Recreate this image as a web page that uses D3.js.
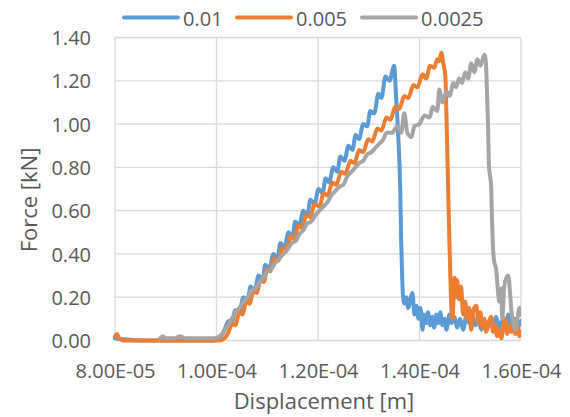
<!DOCTYPE html>
<html>
<head>
<meta charset="utf-8">
<script src="https://cdn.jsdelivr.net/npm/d3@7"></script>
<style>
  body { margin: 0; background: #fff; }
  text { font-family: "Open Sans", sans-serif; fill: #595959; }
</style>
</head>
<body>
<div id="chart"></div>
<script>
// displacement read in micrometres, force in kN
const seriesNames = ["0.01", "0.005", "0.0025"]
const seriesColors = ["#5B9BD5", "#ED7D31", "#A5A5A5"]

const run001 = [
  [80.0,0.01],[85.0,0.0],[90.0,0.0],[95.0,0.0],[99.5,0.0],[100.6,0.01],[101.4,0.04],
  [102.4,0.09],[103.0,0.08],[103.7,0.14],[104.5,0.13],[105.3,0.20],[106.1,0.18],[106.7,0.25],[107.5,0.23],
  [108.3,0.30],[109.1,0.28],[109.6,0.35],[110.4,0.33],[111.2,0.40],[112.0,0.38],[112.6,0.45],[113.4,0.43],
  [114.2,0.50],[115.0,0.48],[115.5,0.55],[116.3,0.53],[117.1,0.60],[117.9,0.58],[118.5,0.65],[119.3,0.63],
  [120.1,0.70],[120.9,0.68],[121.5,0.75],[122.2,0.73],[123.0,0.80],[123.8,0.78],[124.4,0.85],[125.2,0.83],
  [126.0,0.90],[126.8,0.88],[127.4,0.95],[128.1,0.93],[128.9,1.00],[129.7,0.99],[130.3,1.06],[131.1,1.05],
  [131.9,1.14],[132.5,1.12],[133.3,1.22],[134.1,1.20],[135.0,1.27],[135.4,1.12],[135.8,0.95],[136.2,0.70],
  [136.4,0.45],[136.6,0.28],[136.8,0.19],
  [137.0,0.17],[137.4,0.20],[137.8,0.15],[138.2,0.19],[138.6,0.22],[139.0,0.12],[139.4,0.16],[139.8,0.10],
  [140.2,0.15],[140.6,0.05],[140.9,0.12],[141.3,0.08],[141.7,0.13],[142.1,0.07],[142.5,0.11],[142.9,0.06],
  [143.3,0.12],[143.7,0.08],[144.1,0.13],[144.5,0.07],[144.9,0.10],[145.3,0.05],[145.9,0.12],[146.3,0.08],
  [146.9,0.11],[147.4,0.06],[148.0,0.10],[148.6,0.05],[149.2,0.11],[149.8,0.08],[150.4,0.12],[151.0,0.07],
  [151.6,0.10],[152.2,0.05],[152.8,0.09],[153.4,0.06],[153.9,0.10],[154.5,0.07],[155.1,0.11],[155.7,0.06],
  [156.3,0.09],[156.9,0.05],[157.5,0.12],[158.1,0.07],[158.7,0.10],[159.3,0.06],[160.0,0.09]
]

const run0005 = [
  [80.0,0.02],[80.4,0.03],[80.8,0.01],[81.9,0.0],[96.7,0.0],[100.6,0.0],[101.6,0.01],[102.4,0.04],
  [103.1,0.08],[103.7,0.07],[104.5,0.13],[105.1,0.12],[105.9,0.18],[106.5,0.17],[107.3,0.23],[107.9,0.22],
  [108.7,0.28],[109.3,0.27],[110.0,0.33],[110.6,0.32],[111.4,0.38],[112.2,0.37],[113.0,0.43],[113.8,0.42],
  [114.6,0.48],[115.4,0.47],[116.1,0.53],[116.9,0.52],[117.7,0.58],[118.5,0.57],[119.3,0.63],[120.3,0.62],
  [121.1,0.68],[121.9,0.67],[122.8,0.73],[123.6,0.72],[124.6,0.78],[125.4,0.77],[126.4,0.83],[127.2,0.82],
  [128.1,0.88],[128.9,0.87],[129.9,0.93],[130.7,0.92],[131.7,0.98],[132.5,0.97],[133.5,1.03],[134.3,1.02],
  [135.2,1.08],[136.0,1.07],[137.0,1.13],[137.8,1.12],[138.8,1.18],[139.6,1.17],[140.6,1.23],[141.3,1.21],
  [142.1,1.27],[142.9,1.26],[143.5,1.30],[143.9,1.29],[144.3,1.33],
  [144.7,1.28],[145.1,1.22],[145.3,1.05],[145.5,0.85],[145.7,0.65],[145.9,0.45],[146.1,0.28],[146.3,0.14],[146.5,0.10],
  [146.9,0.29],[147.2,0.20],[147.4,0.28],[147.8,0.19],[148.2,0.25],[148.6,0.12],[149.0,0.18],[149.4,0.10],
  [149.8,0.15],[150.2,0.05],[150.6,0.14],[151.2,0.16],[151.6,0.08],[152.0,0.13],[152.4,0.06],[152.8,0.10],
  [153.1,0.04],[153.7,0.08],[154.1,0.11],[154.5,0.04],[154.9,0.07],[155.3,0.02],[155.7,0.05],[156.1,0.01],
  [156.5,0.06],[156.9,0.10],[157.3,0.03],[157.7,0.07],[158.1,0.04],[158.5,0.09],[158.9,0.03],[159.3,0.07],
  [159.7,0.02],[159.9,0.04]
]

const run00025 = [
  [88.9,0.01],[89.4,0.02],[90.0,0.01],[91.8,0.01],[92.8,0.02],[93.8,0.01],[96.7,0.01],[99.6,0.01],
  [100.6,0.02],[101.4,0.04],[102.2,0.07],[103.0,0.10],[103.7,0.13],[104.5,0.15],[105.3,0.18],[106.1,0.20],
  [106.9,0.23],[107.7,0.24],[108.5,0.27],[109.3,0.29],[110.0,0.32],[110.8,0.33],[111.6,0.36],[112.4,0.38],
  [113.2,0.40],[114.0,0.42],[114.8,0.45],[115.6,0.46],[116.3,0.49],[117.1,0.51],[117.9,0.54],[118.7,0.55],
  [119.5,0.58],[120.3,0.60],[121.1,0.62],[121.9,0.64],[122.6,0.67],[123.4,0.69],[124.2,0.71],[125.0,0.72],
  [125.8,0.76],[126.6,0.78],[127.4,0.80],[128.1,0.82],[128.9,0.83],[129.7,0.86],[130.5,0.87],[131.3,0.89],
  [132.1,0.91],[132.9,0.93],
  [133.5,0.96],[134.6,0.96],[135.6,0.99],[136.4,0.96],[137.0,1.05],[137.6,0.96],[138.4,0.94],[139.0,0.99],
  [140.0,1.00],[141.0,1.04],[142.0,1.03],[142.6,1.08],[143.5,1.06],[143.9,1.16],[144.5,1.10],[145.3,1.15],
  [145.9,1.13],[146.7,1.19],[147.2,1.17],[147.8,1.21],[148.4,1.19],[149.0,1.24],[149.6,1.21],[150.2,1.28],
  [150.8,1.24],[151.4,1.30],[152.0,1.27],[152.8,1.32],[153.1,1.28],
  [153.3,1.15],[153.5,1.00],[153.7,0.80],[153.9,0.76],[154.1,0.72],[154.3,0.55],[154.5,0.42],[154.7,0.37],
  [155.1,0.33],[155.5,0.22],[155.7,0.18],[156.1,0.24],[156.3,0.10],[156.7,0.25],[157.1,0.29],[157.5,0.30],
  [157.9,0.20],[158.1,0.14],[158.5,0.08],[158.9,0.05],[159.3,0.10],[159.7,0.15],[159.9,0.12]
]

const xTicks = [8.0e-5, 1.0e-4, 1.2e-4, 1.4e-4, 1.6e-4]
const xTickLabels = ["8.00E-05", "1.00E-04", "1.20E-04", "1.40E-04", "1.60E-04"]
const yTicks = [0, 0.2, 0.4, 0.6, 0.8, 1.0, 1.2, 1.4]
const yTickLabels = ["0.00", "0.20", "0.40", "0.60", "0.80", "1.00", "1.20", "1.40"]

const runs = [run001, run0005, run00025]

let width = 570
let height = 417
let plot = { left: 115, right: 521, top: 37.5, bottom: 340.5 }

var svg = d3.select("#chart")
    .append("svg")
    .attr("width", width)
    .attr("height", height)

svg.append("rect").attr("width", width).attr("height", height).attr("fill", "#fff")

var x = d3.scaleLinear().domain([8.0e-5, 1.6e-4]).range([plot.left, plot.right])
var y = d3.scaleLinear().domain([0, 1.4]).range([plot.bottom, plot.top])

// grid
svg.append("g").selectAll("line")
    .data(yTicks)
    .enter()
    .append("line")
    .attr("x1", plot.left).attr("x2", plot.right)
    .attr("y1", d => y(d)).attr("y2", d => y(d))
    .attr("stroke", "#D9D9D9").attr("stroke-width", 1.3)

svg.append("g").selectAll("line")
    .data(xTicks)
    .enter()
    .append("line")
    .attr("x1", d => x(d)).attr("x2", d => x(d))
    .attr("y1", plot.top).attr("y2", plot.bottom)
    .attr("stroke", "#D9D9D9").attr("stroke-width", 1.3)

// axes labels
var xAxis = d3.axisBottom(x)
    .tickValues(xTicks)
    .tickSize(0)
    .tickPadding(0)
    .tickFormat((d, i) => xTickLabels[i])

var gx = svg.append("g")
    .attr("transform", "translate(0," + plot.bottom + ")")
    .call(xAxis)
gx.select(".domain").remove()
gx.selectAll("text")
    .attr("y", 37).attr("dy", null)
    .style("font-size", "20px")
    .style("font-family", "'Open Sans', sans-serif")
    .attr("fill", "#595959")

var yAxis = d3.axisLeft(y)
    .tickValues(yTicks)
    .tickSize(0)
    .tickPadding(0)
    .tickFormat((d, i) => yTickLabels[i])

var gy = svg.append("g")
    .attr("transform", "translate(" + plot.left + ",0)")
    .call(yAxis)
gy.select(".domain").remove()
gy.selectAll("text")
    .attr("x", -24).attr("dy", "0.36em")
    .style("font-size", "20px")
    .style("font-family", "'Open Sans', sans-serif")
    .attr("fill", "#595959")

svg.append("text")
    .attr("x", 324).attr("y", 409)
    .attr("text-anchor", "middle")
    .style("font-size", "22px")
    .text("Displacement [m]")

svg.append("text")
    .attr("transform", "translate(37,200) rotate(-90)")
    .attr("text-anchor", "middle")
    .style("font-size", "22px")
    .text("Force [kN]")

// series
svg.append("clipPath").attr("id", "plotclip")
    .append("rect")
    .attr("x", plot.left - 3).attr("y", plot.top - 5)
    .attr("width", plot.right - plot.left + 3).attr("height", plot.bottom - plot.top + 8)

var line = d3.line()
    .x(d => x(d[0] * 1e-6))
    .y(d => y(d[1]))
    .curve(d3.curveMonotoneX)

svg.append("g").attr("clip-path", "url(#plotclip)")
    .selectAll("path")
    .data(runs)
    .enter()
    .append("path")
    .attr("d", line)
    .attr("fill", "none")
    .attr("stroke", (d, i) => seriesColors[i])
    .attr("stroke-width", 4)
    .attr("stroke-linejoin", "round")
    .attr("stroke-linecap", "round")

// legend
let legendX = [124, 237, 362]
var legend = svg.append("g").selectAll("g")
    .data(seriesNames)
    .enter()
    .append("g")
    .attr("transform", (d, i) => "translate(" + legendX[i] + ",0)")

legend.append("line")
    .attr("x1", 0).attr("x2", 54)
    .attr("y1", 17.5).attr("y2", 17.5)
    .attr("stroke", (d, i) => seriesColors[i])
    .attr("stroke-width", 4)
    .attr("stroke-linecap", "round")

legend.append("text")
    .attr("x", 59).attr("y", 25.5)
    .style("font-size", "20px")
    .text(d => d)
</script>
</body>
</html>
